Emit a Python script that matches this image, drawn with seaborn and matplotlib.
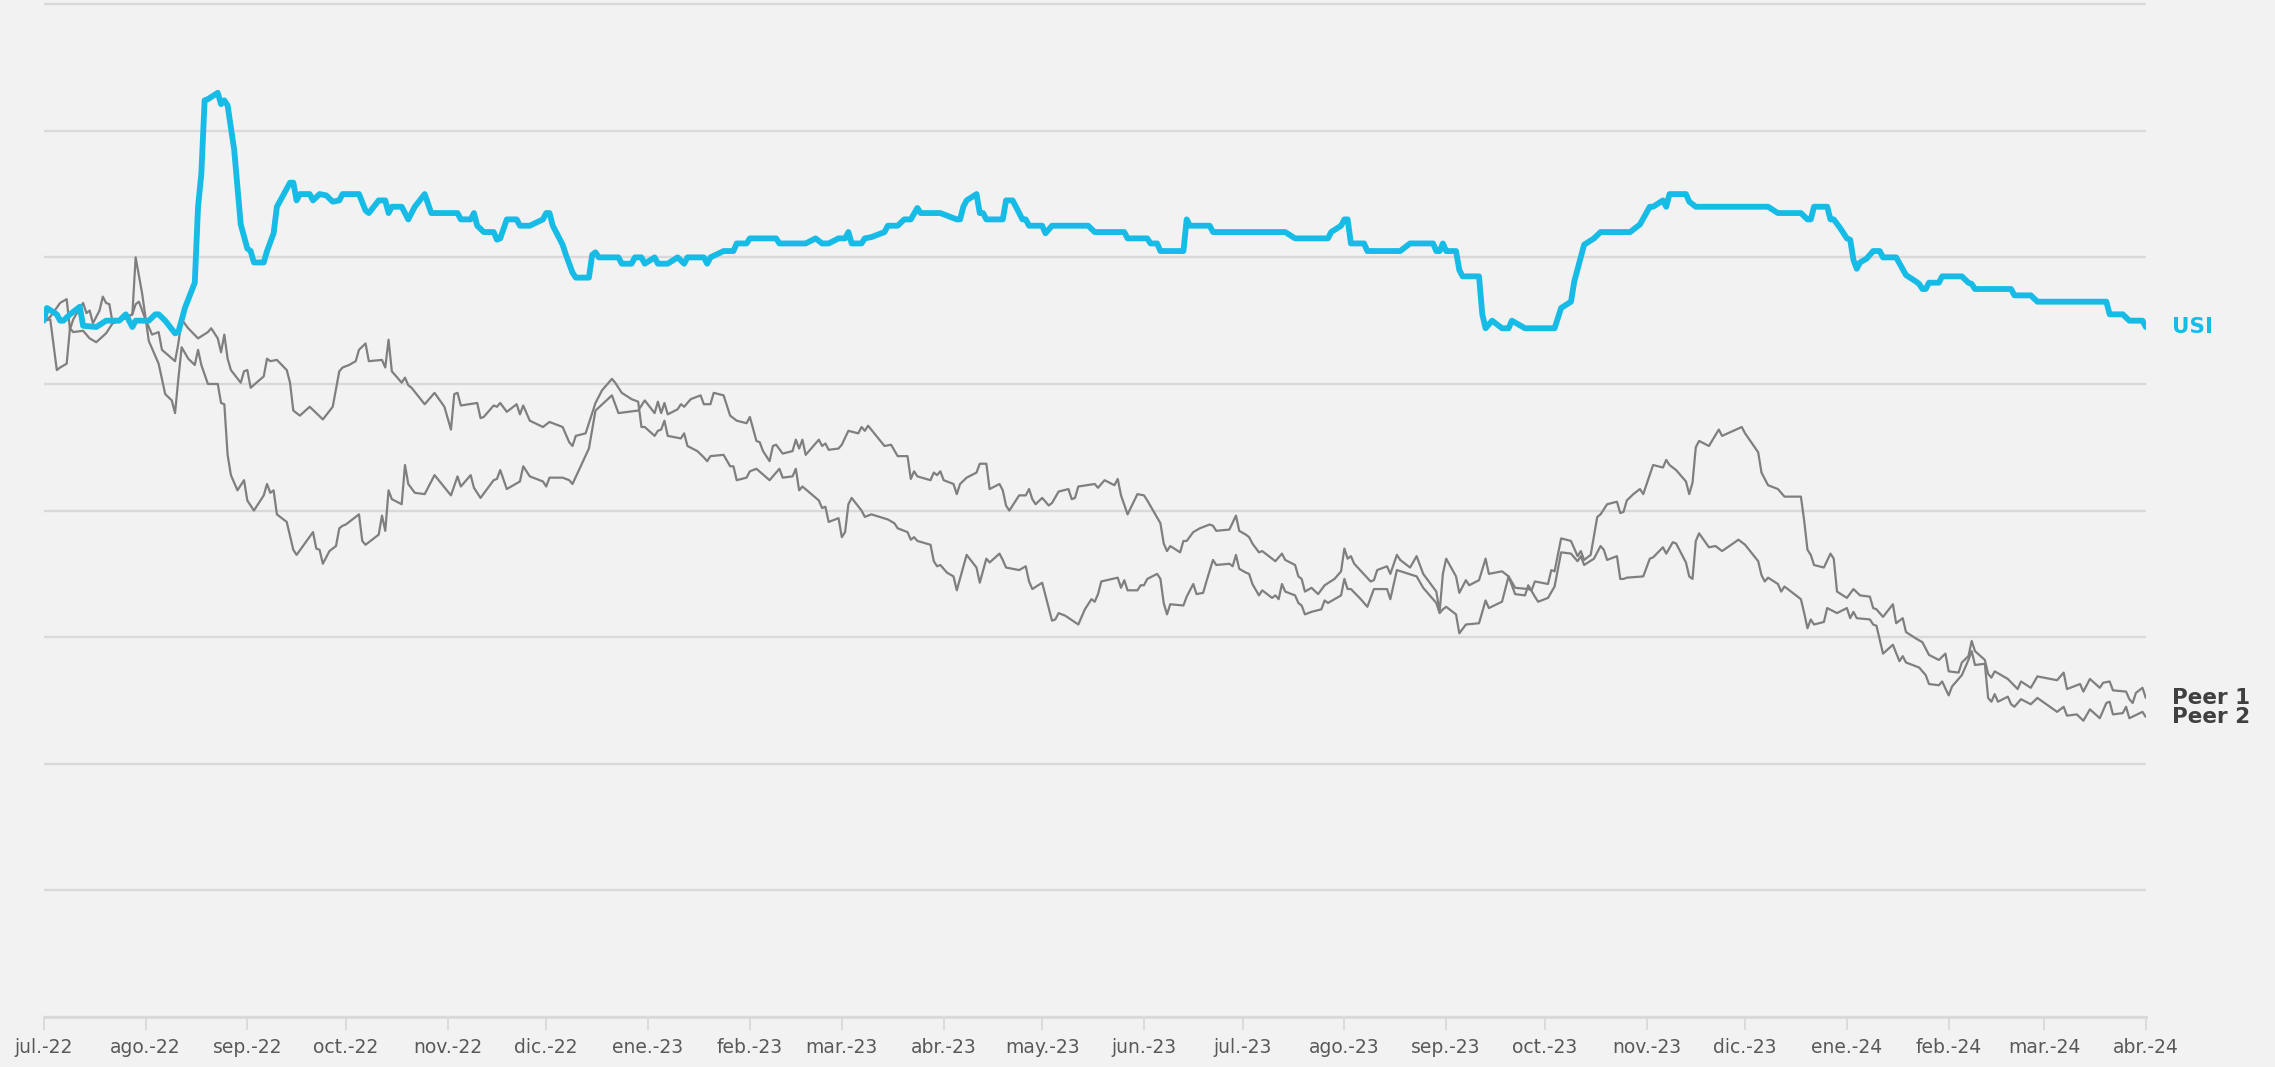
import pandas as pd
import matplotlib
matplotlib.use("Agg")
import matplotlib.pyplot as plt
import seaborn as sns

# values (index level, day offset from 1 jul 2022)
start_date = "2022-07-01"
end_date = "2024-04-01"

usi_day = [0, 1, 4, 5, 6, 8, 11, 12, 16, 19, 23, 25, 27, 28, 32, 34, 35, 37, 40, 41,
           43, 46, 47, 48, 49, 50, 53, 54, 55, 56, 58, 60, 62, 63, 64, 67, 68, 70, 71, 75,
           76, 77, 78, 81, 82, 84, 86, 88, 90, 91, 96, 98, 99, 102, 104, 105, 106, 109, 111, 113,
           116, 118, 126, 127, 130, 131, 132, 134, 137, 138, 139, 141, 144, 145, 148, 152, 153, 154, 155, 158,
           159, 161, 162, 166, 167, 168, 169, 175, 176, 179, 180, 182, 183, 186, 187, 190, 193, 195, 196, 201,
           202, 203, 207, 210, 211, 214, 215, 223, 224, 232, 235, 237, 239, 242, 244, 245, 246, 249, 250, 252,
           256, 257, 260, 262, 264, 266, 267, 273, 278, 279, 280, 281, 284, 285, 286, 287, 292, 293, 295, 298,
           299, 300, 304, 305, 307, 318, 320, 329, 330, 336, 337, 339, 340, 347, 348, 349, 355, 356, 378, 381,
           391, 392, 395, 396, 397, 398, 402, 403, 413, 416, 423, 424, 425, 426, 427, 430, 431, 432, 437, 438,
           439, 441, 444, 446, 447, 451, 460, 462, 465, 466, 469, 472, 474, 483, 486, 489, 490, 493, 494, 495,
           500, 501, 503, 525, 528, 535, 537, 538, 539, 543, 544, 545, 547, 549, 550, 551, 552, 553, 555, 557,
           559, 560, 564, 567, 570, 571, 572, 573, 574, 577, 578, 584, 586, 587, 588, 599, 600, 605, 607, 628,
           629, 633, 635, 639, 640]
usi_val = [55.0, 56.0, 55.5, 55.0, 55.0, 55.5, 56.1, 54.6, 54.5, 55.0, 55.0, 55.5, 54.5, 55.0, 55.0, 55.5, 55.5, 55.0, 54.0, 54.1,
           56.0, 58.0, 64.0, 66.6, 72.4, 72.5, 73.0, 72.1, 72.4, 72.0, 68.5, 62.6, 60.7, 60.5, 59.6, 59.6, 60.5, 61.9, 64.0, 65.9,
           65.9, 64.5, 65.0, 65.0, 64.5, 65.0, 64.9, 64.4, 64.5, 65.0, 65.0, 63.7, 63.5, 64.5, 64.5, 63.5, 64.0, 64.0, 63.0, 64.0,
           65.0, 63.5, 63.5, 63.0, 63.0, 63.5, 62.5, 62.0, 62.0, 61.4, 61.5, 63.0, 63.0, 62.5, 62.5, 63.0, 63.5, 63.5, 62.5, 61.0,
           60.2, 58.8, 58.4, 58.4, 60.2, 60.4, 60.0, 60.0, 59.5, 59.5, 60.0, 60.0, 59.5, 60.0, 59.5, 59.5, 60.0, 59.5, 60.0, 60.0,
           59.5, 60.0, 60.5, 60.5, 61.1, 61.1, 61.5, 61.5, 61.1, 61.1, 61.5, 61.1, 61.1, 61.5, 61.5, 62.0, 61.1, 61.1, 61.5, 61.6,
           62.0, 62.5, 62.5, 63.0, 63.0, 63.9, 63.5, 63.5, 63.0, 63.0, 64.0, 64.5, 65.0, 63.5, 63.5, 63.0, 63.0, 64.5, 64.5, 63.0,
           63.0, 62.5, 62.5, 61.9, 62.5, 62.5, 62.0, 62.0, 61.5, 61.5, 61.1, 61.1, 60.5, 60.5, 63.0, 62.5, 62.5, 62.0, 62.0, 61.5,
           61.5, 62.0, 62.5, 63.0, 63.0, 61.1, 61.1, 60.5, 60.5, 61.1, 61.1, 60.5, 60.5, 61.1, 60.5, 60.5, 59.0, 58.5, 58.5, 55.5,
           54.4, 55.0, 54.4, 54.4, 55.0, 54.4, 54.4, 56.0, 56.5, 58.1, 61.0, 61.5, 62.0, 62.0, 62.6, 64.0, 64.0, 64.5, 64.0, 65.0,
           65.0, 64.4, 64.0, 64.0, 63.5, 63.5, 63.0, 63.0, 64.0, 64.0, 63.0, 63.0, 62.3, 61.5, 61.4, 59.8, 59.1, 59.6, 59.9, 60.5,
           60.5, 60.0, 60.0, 58.6, 58.1, 57.9, 57.5, 57.5, 58.0, 58.0, 58.5, 58.5, 58.0, 57.9, 57.5, 57.5, 57.0, 57.0, 56.5, 56.5,
           55.5, 55.5, 55.0, 55.0, 54.5]

peer1_day = [0, 2, 4, 5, 7, 8, 9, 12, 13, 14, 16, 19, 21, 24, 27, 28, 30, 32, 35, 37,
             39, 40, 41, 42, 44, 46, 47, 48, 50, 53, 54, 55, 56, 57, 59, 61, 62, 64, 67, 68,
             69, 70, 71, 74, 76, 77, 82, 83, 84, 85, 87, 89, 90, 91, 92, 96, 97, 98, 102, 103,
             104, 105, 106, 109, 110, 111, 113, 116, 119, 124, 126, 127, 130, 131, 133, 137, 138, 139, 141, 145,
             146, 148, 152, 153, 154, 158, 160, 161, 166, 168, 173, 175, 181, 183, 186, 187, 188, 189, 190, 193,
             194, 195, 197, 200, 201, 203, 204, 207, 209, 211, 214, 215, 217, 218, 219, 221, 222, 223, 225, 228,
             229, 230, 231, 232, 236, 237, 238, 239, 242, 243, 245, 248, 249, 250, 251, 256, 258, 260, 263, 264,
             265, 266, 270, 271, 272, 273, 274, 275, 277, 278, 279, 281, 284, 285, 287, 288, 291, 292, 293, 294,
             297, 299, 300, 301, 302, 304, 306, 307, 309, 312, 313, 314, 315, 320, 321, 323, 326, 327, 328, 330,
             333, 335, 336, 340, 341, 342, 343, 346, 347, 348, 350, 352, 355, 356, 357, 361, 363, 364, 366, 367,
             368, 370, 371, 375, 377, 378, 381, 382, 383, 384, 386, 388, 390, 393, 395, 396, 397, 398, 399, 404,
             405, 406, 409, 410, 412, 413, 416, 418, 420, 422, 424, 425, 426, 427, 430, 431, 433, 434, 437, 439,
             440, 444, 446, 448, 452, 453, 454, 458, 459, 460, 462, 465, 467, 468, 469, 471, 473, 474, 476, 479,
             480, 481, 482, 484, 486, 487, 490, 493, 494, 495, 497, 500, 501, 502, 503, 504, 507, 510, 511, 517,
             518, 522, 523, 525, 528, 530, 535, 536, 537, 538, 539, 542, 544, 545, 546, 549, 551, 553, 556, 557,
             558, 560, 563, 564, 566, 567, 570, 572, 574, 577, 579, 580, 583, 584, 586, 587, 588, 591, 592, 593,
             594, 598, 601, 602, 605, 607, 613, 615, 616, 620, 621, 623, 626, 627, 629, 630, 634, 635, 636, 637,
             639, 640]
peer1_val = [55.0, 55.1, 51.1, 51.3, 51.6, 54.4, 54.1, 54.2, 53.9, 53.6, 53.3, 54.0, 54.8, 55.1, 55.5, 60.0, 57.1, 53.4, 51.6, 49.2,
             48.7, 47.7, 50.4, 52.9, 52.0, 51.5, 52.7, 51.5, 50.0, 50.0, 48.5, 48.4, 44.4, 42.8, 41.6, 42.4, 40.8, 40.0, 41.2, 42.1,
             41.4, 41.6, 39.7, 39.1, 36.9, 36.5, 38.3, 37.0, 36.9, 35.8, 36.8, 37.2, 38.6, 38.8, 38.9, 39.7, 37.6, 37.3, 38.1, 39.6,
             38.4, 41.6, 40.9, 40.5, 43.6, 42.1, 41.4, 41.3, 42.8, 41.2, 42.7, 41.9, 42.8, 41.8, 41.0, 42.4, 42.5, 43.2, 41.7, 42.3,
             43.5, 42.7, 42.3, 41.9, 42.6, 42.6, 42.4, 42.1, 44.9, 47.9, 49.1, 47.7, 47.9, 48.7, 47.7, 48.6, 47.7, 48.5, 47.6, 48.0,
             48.4, 48.2, 48.8, 49.1, 48.4, 48.4, 49.3, 49.1, 47.5, 47.1, 46.9, 47.4, 45.5, 45.4, 44.7, 43.9, 45.1, 45.2, 44.5, 44.7,
             45.6, 44.9, 45.6, 44.4, 45.6, 45.1, 45.3, 44.8, 44.9, 45.2, 46.3, 46.1, 46.6, 46.3, 46.7, 45.1, 45.2, 44.3, 44.3, 42.5,
             43.1, 42.7, 42.4, 43.0, 42.8, 43.1, 42.4, 42.3, 42.1, 41.3, 42.1, 42.6, 43.0, 43.7, 43.7, 41.7, 42.1, 41.6, 40.4, 40.0,
             41.2, 41.2, 41.7, 40.9, 40.5, 41.0, 40.4, 40.6, 41.5, 41.7, 40.9, 41.0, 41.9, 42.1, 41.8, 42.4, 42.0, 42.5, 41.2, 39.7,
             41.3, 41.2, 40.8, 39.0, 37.4, 36.8, 37.2, 36.7, 37.6, 37.6, 38.3, 38.6, 38.9, 38.8, 38.4, 38.5, 39.6, 38.4, 38.1, 37.9,
             37.4, 36.7, 36.8, 36.0, 36.6, 36.1, 35.7, 34.8, 34.6, 33.6, 33.9, 33.4, 34.1, 34.6, 35.2, 37.0, 36.2, 36.4, 35.8, 34.4,
             34.5, 35.3, 35.6, 35.0, 36.5, 36.1, 35.5, 36.4, 35.0, 34.3, 33.6, 32.0, 35.0, 36.2, 34.8, 33.5, 34.5, 34.1, 34.5, 36.2,
             35.0, 35.2, 34.8, 33.9, 33.8, 33.7, 34.4, 34.2, 35.3, 35.2, 37.8, 37.6, 36.4, 36.8, 36.1, 36.5, 39.5, 39.7, 40.5, 40.7,
             39.8, 39.9, 40.8, 41.3, 41.7, 41.3, 43.6, 43.4, 44.0, 43.6, 43.2, 42.3, 41.3, 42.2, 45.0, 45.5, 45.1, 46.4, 45.9, 46.6,
             46.1, 44.6, 43.0, 42.0, 41.7, 41.1, 41.1, 39.2, 36.9, 36.5, 35.7, 35.5, 36.6, 36.2, 33.6, 33.1, 33.8, 33.3, 33.2, 32.3,
             32.2, 31.6, 32.6, 31.1, 31.5, 30.4, 29.9, 29.6, 28.6, 28.2, 28.7, 27.3, 27.2, 28.0, 28.5, 29.7, 28.9, 28.2, 27.1, 26.8,
             27.3, 26.7, 25.9, 26.5, 26.0, 26.9, 26.6, 27.2, 25.9, 26.3, 25.7, 26.7, 26.0, 26.4, 26.5, 25.8, 25.7, 25.1, 24.8, 25.6,
             26.0, 25.2]

peer2_day = [0, 2, 5, 7, 8, 9, 11, 12, 13, 14, 15, 17, 18, 19, 20, 21, 24, 27, 28, 29,
             31, 33, 35, 36, 40, 41, 42, 44, 47, 50, 51, 53, 54, 55, 56, 57, 60, 61, 62, 63,
             67, 68, 69, 71, 74, 75, 76, 78, 81, 83, 85, 88, 90, 91, 93, 95, 96, 98, 99, 103,
             104, 105, 106, 109, 110, 111, 112, 116, 119, 122, 124, 125, 126, 127, 132, 133, 134, 137, 138, 139,
             141, 144, 145, 146, 148, 152, 154, 158, 160, 161, 162, 165, 168, 170, 173, 174, 176, 179, 181, 182,
             183, 186, 187, 188, 189, 190, 194, 195, 196, 199, 201, 202, 203, 207, 209, 210, 211, 214, 215, 217,
             221, 224, 225, 228, 229, 230, 231, 236, 237, 238, 239, 242, 243, 244, 245, 246, 249, 250, 252, 257,
             259, 260, 263, 264, 265, 266, 270, 271, 272, 273, 275, 277, 278, 281, 284, 285, 287, 288, 291, 292,
             293, 297, 299, 300, 301, 304, 307, 308, 309, 311, 315, 317, 319, 320, 321, 322, 327, 328, 329, 330,
             333, 334, 335, 336, 339, 340, 341, 342, 343, 347, 348, 350, 351, 353, 354, 356, 357, 361, 362, 363,
             364, 366, 367, 368, 370, 371, 374, 375, 376, 377, 378, 381, 382, 383, 384, 386, 389, 390, 391, 393,
             395, 396, 397, 398, 401, 403, 405, 409, 410, 412, 418, 420, 424, 425, 426, 427, 430, 431, 433, 437,
             439, 440, 444, 446, 448, 451, 452, 454, 455, 458, 460, 462, 465, 467, 468, 469, 472, 474, 475, 476,
             479, 480, 481, 482, 487, 489, 490, 493, 494, 496, 497, 500, 501, 502, 503, 504, 507, 509, 511, 516,
             518, 522, 523, 524, 525, 528, 529, 530, 535, 536, 537, 538, 539, 542, 543, 546, 549, 550, 551, 552,
             556, 557, 558, 560, 563, 565, 566, 567, 571, 573, 574, 577, 578, 580, 581, 584, 586, 587, 588, 591,
             592, 593, 594, 595, 598, 599, 600, 602, 605, 607, 613, 615, 616, 619, 621, 623, 626, 628, 629, 630,
             633, 634, 635, 639, 640]
peer2_val = [55.0, 55.3, 56.4, 56.7, 54.3, 55.1, 56.0, 56.4, 55.6, 55.8, 54.8, 55.8, 56.9, 56.4, 56.3, 54.8, 55.1, 55.5, 56.3, 56.5,
             55.1, 53.9, 54.1, 52.7, 51.8, 53.2, 55.1, 54.4, 53.6, 54.1, 54.4, 53.6, 52.5, 53.9, 52.0, 51.1, 50.1, 51.0, 51.1, 49.7,
             50.6, 52.0, 51.8, 51.9, 51.1, 50.1, 47.9, 47.5, 48.2, 47.7, 47.2, 48.2, 51.0, 51.3, 51.5, 51.8, 52.7, 53.2, 51.8, 51.9,
             51.3, 53.5, 51.0, 50.1, 50.5, 49.9, 49.7, 48.4, 49.3, 48.2, 46.4, 49.2, 49.3, 48.3, 48.5, 47.3, 47.4, 48.3, 48.2, 48.5,
             47.8, 48.4, 47.6, 48.3, 47.1, 46.6, 47.0, 46.6, 45.4, 45.1, 45.9, 46.1, 48.5, 49.5, 50.4, 50.1, 49.3, 48.8, 48.6, 46.6,
             46.6, 45.9, 46.3, 46.4, 47.1, 45.9, 45.7, 46.1, 45.1, 44.7, 44.2, 43.9, 44.3, 44.4, 43.5, 43.5, 42.4, 42.6, 43.1, 43.3,
             42.4, 43.3, 42.6, 42.7, 43.3, 41.6, 41.9, 40.8, 40.2, 40.3, 39.1, 39.4, 37.9, 38.3, 40.5, 41.0, 40.0, 39.5, 39.7, 39.3,
             39.0, 38.6, 38.3, 37.7, 37.9, 37.6, 37.3, 36.0, 35.6, 35.7, 35.1, 34.8, 33.7, 36.5, 35.5, 34.3, 36.2, 35.9, 36.6, 36.1,
             35.5, 35.3, 35.6, 34.4, 33.8, 34.3, 31.3, 31.4, 31.9, 31.7, 31.0, 32.2, 33.0, 32.8, 33.4, 34.4, 34.7, 33.9, 34.5, 33.7,
             33.7, 34.1, 34.1, 34.6, 35.0, 34.6, 32.7, 31.8, 32.6, 32.5, 33.2, 34.2, 33.4, 33.5, 34.4, 36.1, 35.7, 35.8, 35.6, 36.5,
             35.4, 35.1, 35.0, 34.2, 33.3, 33.7, 33.1, 33.3, 33.0, 34.2, 33.6, 33.3, 32.7, 32.5, 31.8, 32.0, 32.2, 32.9, 32.7, 33.0,
             33.3, 34.6, 33.8, 33.8, 33.0, 32.4, 33.8, 33.8, 33.0, 35.3, 34.8, 33.9, 32.7, 31.9, 32.2, 32.4, 31.8, 30.3, 31.0, 31.1,
             32.9, 32.3, 32.8, 34.8, 33.4, 33.3, 34.1, 33.2, 32.8, 33.1, 34.0, 36.7, 36.6, 36.0, 36.4, 35.7, 36.2, 37.2, 36.9, 36.1,
             36.4, 34.6, 34.6, 34.7, 34.8, 36.2, 36.3, 37.1, 36.6, 37.5, 37.4, 35.9, 34.8, 34.6, 37.6, 38.2, 37.1, 37.2, 36.8, 37.7,
             37.3, 36.0, 34.9, 34.4, 34.7, 34.2, 33.6, 34.0, 33.0, 31.9, 30.7, 31.4, 31.0, 31.2, 32.3, 31.9, 32.3, 31.5, 32.0, 31.5,
             31.4, 31.0, 30.9, 28.7, 29.4, 28.1, 28.5, 28.0, 27.6, 27.0, 26.3, 26.2, 26.5, 25.4, 26.1, 27.0, 28.2, 28.9, 27.8, 27.9,
             25.2, 24.9, 25.5, 24.9, 25.3, 24.7, 24.5, 25.1, 24.7, 25.2, 24.1, 24.5, 23.8, 23.9, 23.4, 24.3, 23.6, 24.8, 24.9, 23.9,
             24.0, 24.5, 23.6, 24.1, 23.7]

tick_labels = ["jul.-22", "ago.-22", "sep.-22", "oct.-22", "nov.-22", "dic.-22", "ene.-23", "feb.-23",
               "mar.-23", "abr.-23", "may.-23", "jun.-23", "jul.-23", "ago.-23", "sep.-23", "oct.-23",
               "nov.-23", "dic.-23", "ene.-24", "feb.-24", "mar.-24", "abr.-24"]

series_names = ["USI", "Peer 1", "Peer 2"]

BG = "#F2F2F2"
GRID = "#D9D9D9"
CYAN = "#16BCE6"
GREY = "#7F7F7F"


def to_frame(days, vals):
    return pd.DataFrame({
        "fecha": pd.Timestamp(start_date) + pd.to_timedelta(days, unit="D"),
        "valor": vals,
    })


sns.set_style("white")
plt.rcParams["font.family"] = ["DejaVu Sans"]

fig = plt.figure(figsize=(22.75, 10.67), dpi=100, facecolor=BG)
ax = fig.add_axes([0.0192, 0.0469, 0.9240, 0.9531])
ax.set_facecolor(BG)

ax.set_ylim(0, 80.33)
ax.set_yticks(range(0, 81, 10))
ax.yaxis.grid(True, color=GRID, linewidth=1.7)
ax.tick_params(axis="y", left=False, labelleft=False)

frames = {
    "USI": to_frame(usi_day, usi_val),
    "Peer 1": to_frame(peer1_day, peer1_val),
    "Peer 2": to_frame(peer2_day, peer2_val),
}
styles = {
    "USI": dict(color=CYAN, linewidth=4.2, zorder=4),
    "Peer 1": dict(color=GREY, linewidth=1.6, zorder=3),
    "Peer 2": dict(color=GREY, linewidth=1.6, zorder=3),
}

for name in series_names:
    sns.lineplot(data=frames[name], x="fecha", y="valor", ax=ax, estimator=None,
                 sort=False, solid_joinstyle="round", solid_capstyle="round",
                 **styles[name])

# series labels at the right end of each line
label_colors = {"USI": CYAN, "Peer 1": "#404040", "Peer 2": "#404040"}
for name in series_names:
    last = frames[name].iloc[-1]
    ax.annotate(name, xy=(last["fecha"], last["valor"]), xytext=(19, 0),
                textcoords="offset points", va="center", ha="left",
                fontsize=15.5, fontweight="bold", color=label_colors[name],
                annotation_clip=False)

tick_dates = pd.date_range(start_date, end_date, freq="MS")
ax.set_xlim(pd.Timestamp(start_date), pd.Timestamp(end_date))
ax.set_xticks(tick_dates)
ax.set_xticklabels(tick_labels)
ax.tick_params(axis="x", bottom=True, length=9, width=1.3, color=GRID,
               labelsize=13.5, labelcolor="#595959", pad=6)
ax.set_xlabel("")
ax.set_ylabel("")

for side in ["left", "right", "top"]:
    ax.spines[side].set_visible(False)
ax.spines["bottom"].set_color(GRID)
ax.spines["bottom"].set_linewidth(2)

fig.savefig("out.png", dpi=100, facecolor=BG)
plt.close(fig)
